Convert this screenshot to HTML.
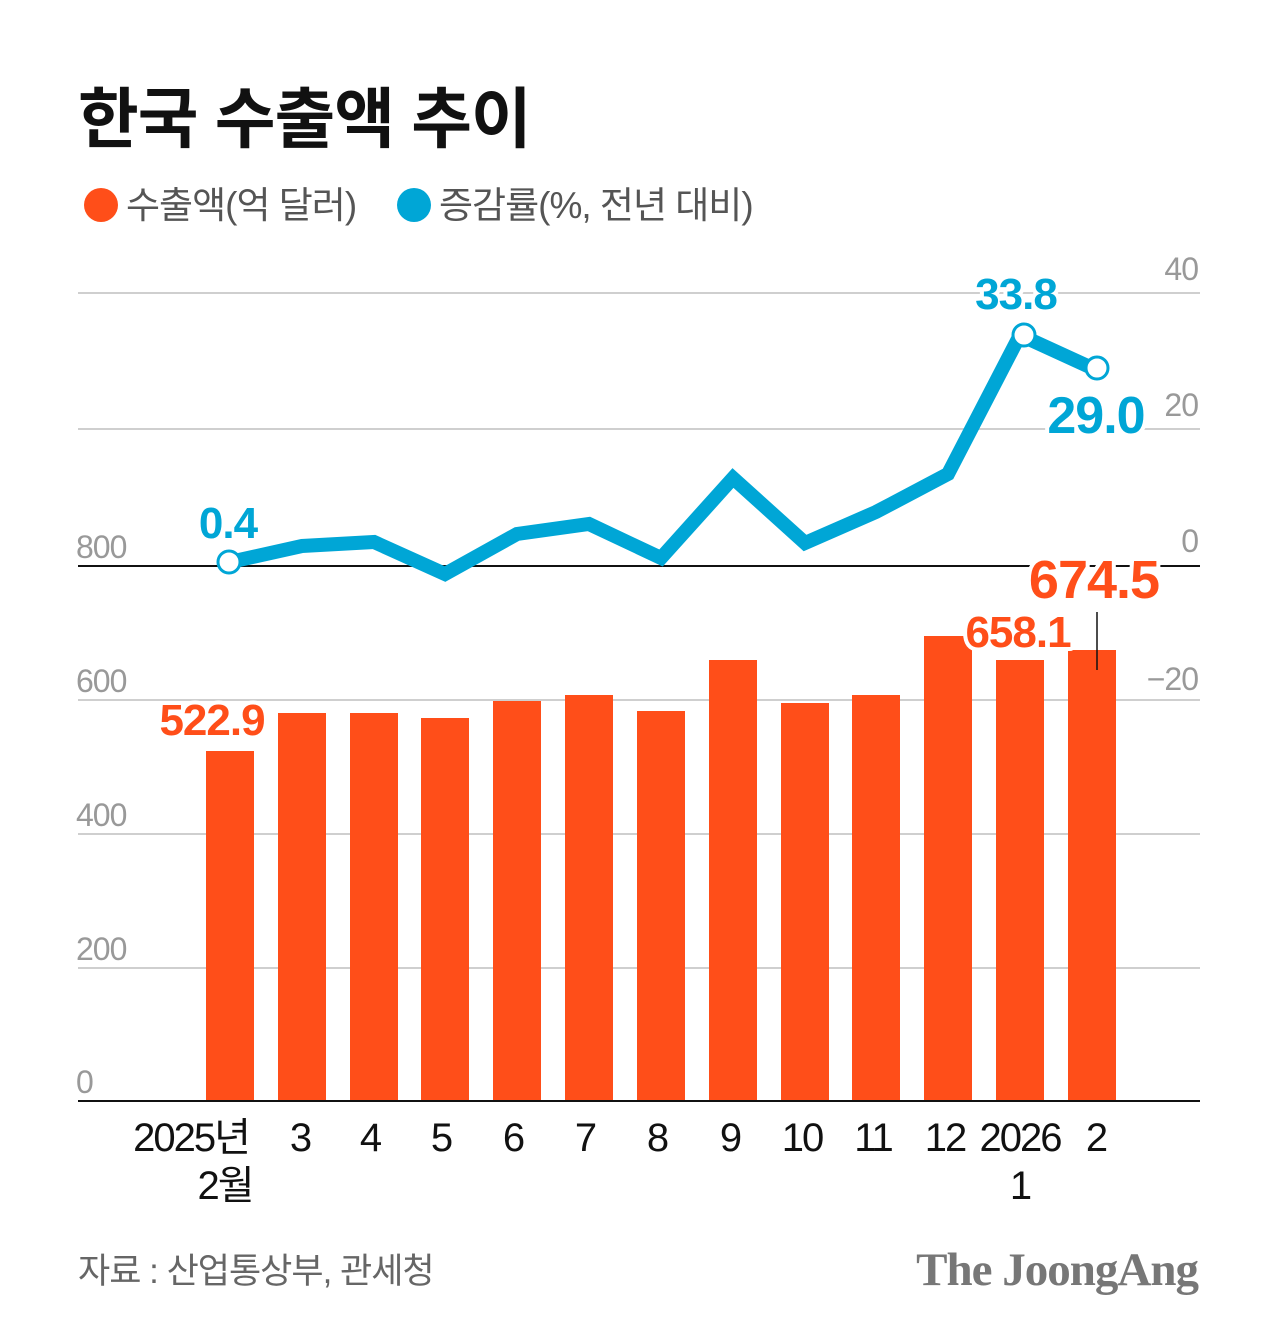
<!DOCTYPE html>
<html><head><meta charset="utf-8"><style>
html,body{margin:0;padding:0;background:#fff;}
svg{display:block;font-family:"Liberation Sans","Noto Sans CJK KR",sans-serif;}
.halo{paint-order:stroke;stroke:#fff;stroke-width:8px;stroke-linejoin:round;}
</style></head><body>
<svg width="1280" height="1344" viewBox="0 0 1280 1344" xmlns="http://www.w3.org/2000/svg">
<text x="78" y="142" font-size="66" font-weight="bold" fill="#111" letter-spacing="-1">한국 수출액 추이</text>
<circle cx="101" cy="205" r="17" fill="#ff4e19"/>
<text x="126" y="218" font-size="37" fill="#555" letter-spacing="-1">수출액(억 달러)</text>
<circle cx="414" cy="205" r="17" fill="#00a6d6"/>
<text x="439" y="218" font-size="37" fill="#555" letter-spacing="-1">증감률(%, 전년 대비)</text>

<g stroke="#cfcfcf" stroke-width="2">
<line x1="78" y1="293" x2="1200" y2="293"/>
<line x1="78" y1="429" x2="1200" y2="429"/>
<line x1="78" y1="700" x2="1200" y2="700"/>
<line x1="78" y1="834" x2="1200" y2="834"/>
<line x1="78" y1="968" x2="1200" y2="968"/>
</g>
<line x1="78" y1="566" x2="1200" y2="566" stroke="#111" stroke-width="2"/>
<g font-size="32" fill="#999" letter-spacing="-1">
<text x="76" y="558">800</text><text x="76" y="692">600</text><text x="76" y="826">400</text><text x="76" y="960">200</text><text x="76" y="1093">0</text>
<g text-anchor="end"><text x="1198" y="280">40</text><text x="1198" y="416">20</text><text x="1198" y="552">0</text><text x="1198" y="690">−20</text></g>
</g>

<g fill="#ff4e19">
<rect x="206" y="751" width="48" height="350"/>
<rect x="278" y="713" width="48" height="388"/>
<rect x="350" y="713" width="48" height="388"/>
<rect x="421" y="718" width="48" height="383"/>
<rect x="493" y="701" width="48" height="400"/>
<rect x="565" y="695" width="48" height="406"/>
<rect x="637" y="711" width="48" height="390"/>
<rect x="709" y="660" width="48" height="441"/>
<rect x="781" y="703" width="48" height="398"/>
<rect x="852" y="695" width="48" height="406"/>
<rect x="924" y="636" width="48" height="465"/>
<rect x="996" y="660" width="48" height="441"/>
<rect x="1068" y="650" width="48" height="451"/>
</g>
<line x1="78" y1="1101" x2="1200" y2="1101" stroke="#111" stroke-width="2"/>
<line x1="1097" y1="612" x2="1097" y2="670" stroke="#111" stroke-width="1.5"/>

<polyline points="230,562 302,546 374,542 445,574 517,534 589,524 661,558 733,478 805,543 876,512 948,474 1020,335 1092,368" fill="none" stroke="#00a6d6" stroke-width="14" stroke-linejoin="miter"/>
<g fill="#fff" stroke="#00a6d6" stroke-width="3">
<circle cx="229" cy="562" r="11"/><circle cx="1024" cy="335" r="11"/><circle cx="1097" cy="368" r="11"/>
</g>

<g font-weight="bold" class="halo" text-anchor="middle" letter-spacing="-1">
<text x="228" y="538" font-size="44" fill="#00a6d6">0.4</text>
<text x="1016" y="309" font-size="44" fill="#00a6d6">33.8</text>
<text x="1096" y="433" font-size="52" fill="#00a6d6">29.0</text>
<text x="212" y="735" font-size="44" fill="#ff4e19">522.9</text>
<text x="1018" y="647" font-size="44" fill="#ff4e19">658.1</text>
<text x="1094" y="598" font-size="54" fill="#ff4e19">674.5</text>
</g>

<g font-size="40" fill="#111" text-anchor="middle" letter-spacing="-2">
<text x="191" y="1151">2025년</text><text x="225" y="1199">2월</text>
<text x="300" y="1151">3</text><text x="370" y="1151">4</text><text x="441" y="1151">5</text>
<text x="513" y="1151">6</text><text x="585" y="1151">7</text><text x="657" y="1151">8</text>
<text x="730" y="1151">9</text><text x="802" y="1151">10</text><text x="873" y="1151">11</text>
<text x="945" y="1151">12</text><text x="1020" y="1151">2026</text><text x="1020" y="1199">1</text>
<text x="1096" y="1151">2</text>
</g>

<text x="78" y="1283" font-size="35" fill="#666" letter-spacing="-1">자료 : 산업통상부, 관세청</text>
<text x="1198" y="1285" font-size="47" font-weight="bold" fill="#777" text-anchor="end" font-family="Liberation Serif,serif" letter-spacing="-1">The JoongAng</text>
</svg>
</body></html>
